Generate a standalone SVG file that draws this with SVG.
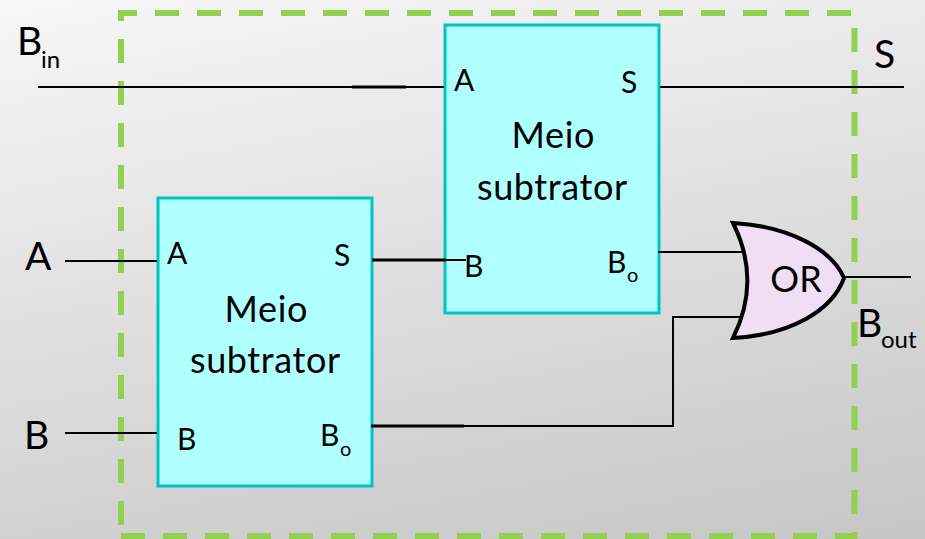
<svg xmlns="http://www.w3.org/2000/svg" width="925" height="539" viewBox="0 0 925 539">
<defs><linearGradient id="bg" gradientUnits="userSpaceOnUse" x1="0" y1="0" x2="127" y2="685"><stop offset="0" stop-color="#f7f7f7"/><stop offset="1" stop-color="#c6c6c6"/></linearGradient></defs>
<style>
text{font-family:"Lato","Open Sans",sans-serif;fill:#000}
.frame{fill:none;stroke:#92d050;stroke-width:6;stroke-dasharray:24 18}
.box{fill:#b0ffff;stroke:#00c4c4;stroke-width:3}
.w{fill:none;stroke:#000;stroke-width:2}
.t{fill:none;stroke:#000;stroke-width:3}
.big{font-size:39px}.mid{font-size:36px}.pin{font-size:30px}.sub{font-size:24px}.o{font-size:20px}
</style>
<rect width="925" height="539" fill="url(#bg)"/>
<g id="frame">
<path class="frame" d="M121 21V13H851"/>
<path class="frame" d="M121 39V525"/>
<path class="frame" d="M121 536H854.5V532"/>
<path class="frame" d="M854.5 28V532"/>
</g>
<g id="half1"><rect class="box" x="158" y="198" width="214" height="288"/>
<text class="pin" x="167" y="264">A</text><text class="pin" x="334" y="266">S</text>
<text class="mid" x="266" y="322" text-anchor="middle" textLength="83">Meio</text><text class="mid" x="265" y="373" text-anchor="middle" textLength="150">subtrator</text>
<text class="pin" x="177" y="450">B</text><text class="pin" x="320" y="446">B</text><text class="o" x="340" y="456">o</text></g>
<g id="half2"><rect class="box" x="445" y="25" width="214" height="288"/>
<text class="pin" x="454" y="91">A</text><text class="pin" x="621" y="93">S</text>
<text class="mid" x="553" y="148" text-anchor="middle" textLength="83">Meio</text><text class="mid" x="552" y="200" text-anchor="middle" textLength="150">subtrator</text>
<text class="pin" x="464" y="277">B</text><text class="pin" x="607" y="273">B</text><text class="o" x="627" y="282">o</text></g>
<g id="connectors">
<path class="w" d="M38 87H444"/>
<path class="t" d="M352 87H406"/>
<path class="w" d="M660 87H904"/>
<path class="w" d="M65 261H157"/>
<path class="t" d="M372 260H446"/>
<path class="w" d="M446 260H466"/>
<path class="w" d="M65 433H157"/>
<path class="w" d="M464 426H673V317H745"/>
<path class="t" d="M371 426H464"/>
<path class="w" d="M658 252H745"/>
<path class="w" d="M844 277H911"/>
</g>
<g id="or"><path d="M733 223C790 226 832 250 844 278C832 311 790 335 733 338C752 300 752 261 733 223Z" fill="#f0def5" stroke="#000" stroke-width="4"/>
<text class="mid" x="796" y="292" text-anchor="middle">OR</text></g>
<g id="lbl-bin"><text class="big" x="17" y="55">B</text><text class="sub" x="41" y="68">in</text></g>
<g id="lbl-s"><text class="big" x="874" y="68">S</text></g>
<g id="lbl-a"><text class="big" x="25" y="270">A</text></g>
<g id="lbl-b"><text class="big" x="24" y="449">B</text></g>
<g id="lbl-bout"><text class="big" x="857" y="337">B</text><text class="sub" x="881" y="348">out</text></g>
</svg>
